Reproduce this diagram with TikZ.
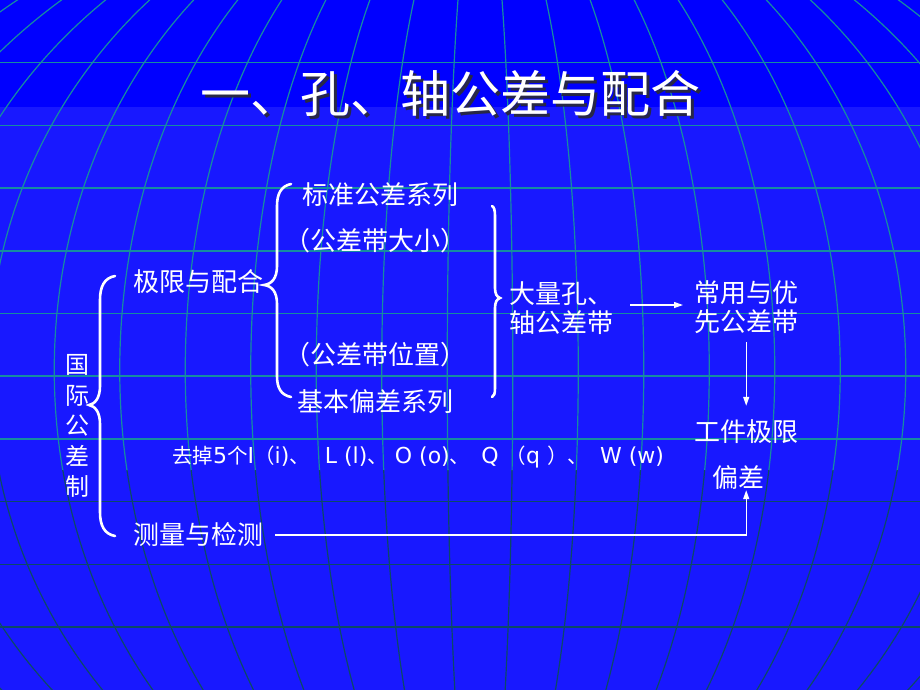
\documentclass[tikz,border=0pt]{standalone}
\usepackage{fontspec}
\newfontfamily\cjk{Noto Sans CJK SC}
\newfontfamily\xifont{DejaVu Sans}
\usetikzlibrary{positioning,arrows.meta}
\definecolor{topblue}{RGB}{0,0,255}
\definecolor{bodyblue}{RGB}{24,24,255}
\definecolor{gridteal}{RGB}{22,140,160}
\definecolor{griddark}{RGB}{12,72,104}
\definecolor{shadowgray}{RGB}{40,40,70}
\tikzset{
  wenzi/.style={text=white, font=\cjk\fontsize{26}{29}\selectfont, inner sep=0pt, align=left},
  kuohao/.style={white, line width=2.6pt, line cap=round},
  jiantou/.style={white, line width=1.2pt, -{Triangle[length=9pt,width=6pt]}},
}
\newcommand{\biaoti}{一、孔、轴公差与配合}
\newcommand{\hz}[1]{{\cjk\fontsize{20.5}{24}\selectfont #1}}

\begin{document}
\begin{tikzpicture}[x=1pt,y=-1pt]
        \useasboundingbox (0,0) rectangle (920,690);
        % Background and globe grid
        \fill[bodyblue] (0,0) rectangle (920,690);
        \fill[topblue] (0,0) rectangle (920,107);
        \begin{scope}
            \clip (0,0) rectangle (920,470);
            \foreach \m in {0.5,1.5,...,12.5} {
                \draw[gridteal, line width=1.2pt] (480,370) ellipse [x radius=\m*65.5pt, y radius=500pt];
            }
        \end{scope}
        \begin{scope}
            \clip (0,470) rectangle (920,690);
            \foreach \m in {0.5,1.5,...,12.5} {
                \draw[griddark, line width=1.2pt] (480,370) ellipse [x radius=\m*65.5pt, y radius=500pt];
            }
        \end{scope}
        \foreach \j in {1,...,7} {
            \draw[gridteal, line width=1.5pt] (0,62.7*\j) -- (920,62.7*\j);
        }
        \foreach \j in {8,9,10} {
            \draw[griddark, line width=1.5pt] (0,62.7*\j) -- (920,62.7*\j);
        }

        % Title (with its shadow)
        \node (title) at (450,93) [wenzi, font=\cjk\fontsize{50}{50}\selectfont]
            {\makebox[0pt][l]{\hspace*{3pt}\raisebox{-3pt}[0pt][0pt]{\textcolor{shadowgray}{\biaoti}}}\biaoti};

        % Nodes
        \node (guoji) at (77,426) [wenzi, align=center, font=\cjk\fontsize{24}{30.5}\selectfont] {国\\际\\公\\差\\制};
        \node (jixian) at (133,282) [wenzi, anchor=west] {极限与配合};
        \node (biaozhun) at (302,195) [wenzi, anchor=west] {标准公差系列};
        \node (daxiao) at (375.5,241) [wenzi] {（公差带大小）};
        \node (weizhi) at (375.5,355) [wenzi] {（公差带位置）};
        \node (jiben) at (297,402) [wenzi, anchor=west] {基本偏差系列};
        \node (daliang) at (509,308.5) [wenzi, anchor=west] {大量孔、\\轴公差带};
        \node (changyong) at (694,307.5) [wenzi, anchor=west] {常用与优\\先公差带};
        \node (gongjian) at (694,432) [wenzi, anchor=west] {工件极限};
        \node (piancha) at (712,478) [wenzi, anchor=west] {偏差};
        \node (quzhuo) at (172,457) [wenzi, anchor=west, font=\xifont\fontsize{22}{24}\selectfont]
            {\hz{去掉}5\hz{个}I\hz{（}i)\hz{、}\hspace{8pt} L (l)\hz{、} O (o)\hz{、}\hspace{4pt} Q \hz{（}q \hz{）、}\hspace{5pt} W (w)};
        \node (celiang) at (133,535) [wenzi, anchor=west] {测量与检测};

        % Braces
        \draw[kuohao] (115,276) .. controls (104,278) and (100,287) .. (100,300) -- (100,386)
            .. controls (100,398) and (95,404) .. (89,405) .. controls (95,406) and (100,412) .. (100,424)
            -- (100,512) .. controls (100,525) and (104,534) .. (115,536);
        \draw[kuohao] (291,184) .. controls (281,186) and (277,194) .. (277,206) -- (277,266)
            .. controls (277,278) and (272,284) .. (264,285) .. controls (272,286) and (277,292) .. (277,304)
            -- (277,376) .. controls (277,388) and (281,395) .. (291,397);
        \draw[kuohao] (492,206) .. controls (494,207) and (495,210) .. (495,216) -- (495,288)
            .. controls (495,294) and (497,297) .. (500,298) .. controls (497,299) and (495,302) .. (495,308)
            -- (495,388) .. controls (495,394) and (494,396) .. (492,397);

        % Arrows
        \draw[jiantou, shorten <=17pt, shorten >=11pt] ([yshift=3.5pt]daliang.east) -- ([yshift=3.5pt]daliang.east -| changyong.west);
        \draw[jiantou, shorten <=8pt, shorten >=14pt] (changyong.south) -- (changyong.south |- gongjian.north);
        \draw[jiantou, shorten <=12pt] (celiang.east) -| ([xshift=8pt]piancha.south);
    \end{tikzpicture}
\end{document}
